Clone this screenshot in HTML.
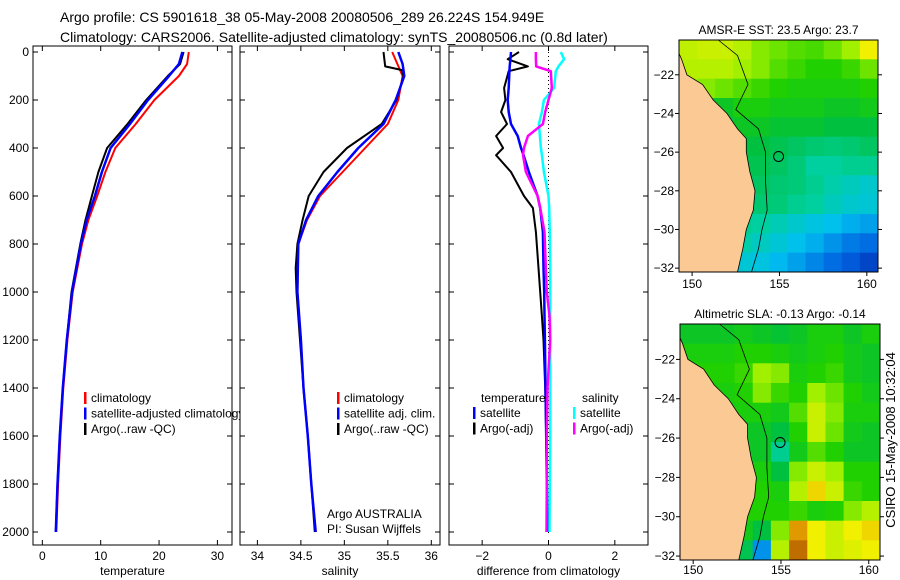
<!DOCTYPE html>
<html><head><meta charset="utf-8"><style>
body{margin:0;background:#fff}
svg{display:block;font-family:"Liberation Sans",sans-serif}
</style></head><body>
<svg id="fig" width="900" height="580" viewBox="0 0 900 580" xmlns="http://www.w3.org/2000/svg">
<text x="60" y="22" font-size="14">Argo profile: CS 5901618_38 05-May-2008 20080506_289 26.224S 154.949E</text>
<text x="60" y="42" font-size="14">Climatology: CARS2006. Satellite-adjusted climatology: synTS_20080506.nc (0.8d later)</text>
<g id="p1"></g>
<g id="p2"></g>
<g id="p3"></g>
<g id="m1"></g>
<g id="m2"></g>
<text transform="translate(895,440) rotate(-90)" text-anchor="middle" font-size="13">CSIRO 15-May-2008 10:32:04</text>
</svg>
<script>
const depths=[0,50,100,200,300,400,500,600,700,800,1000,1200,1400,1600,1800,2000];
const tClim=[25.1,24.8,23.4,19.2,16.0,12.5,10.8,9.4,7.9,6.8,5.2,4.3,3.6,3.1,2.7,2.4];
const tSat=[24.0,23.4,21.7,18.1,15.0,11.7,10.2,9.0,7.6,6.6,5.1,4.2,3.5,3.0,2.6,2.3];
const tArgo=[24.2,23.6,21.5,17.8,14.6,11.1,9.6,8.5,7.4,6.5,5.0,4.2,3.5,3.0,2.6,2.3];
const sClim=[35.55,35.61,35.67,35.62,35.50,35.24,34.98,34.72,34.57,34.47,34.46,34.50,34.53,34.58,34.62,34.67];
const sSat=[35.62,35.67,35.69,35.59,35.45,35.16,34.92,34.70,34.56,34.47,34.46,34.50,34.53,34.58,34.62,34.67];
const sArgoDepths=[0,60,75,100,200,300,400,500,600,700,800,900,1000,1200,1400,1600,1800,2000];
const sArgo=[35.45,35.47,35.66,35.68,35.60,35.43,35.03,34.76,34.59,34.52,34.46,34.44,34.45,34.49,34.53,34.58,34.62,34.66];
const dDepths=[0,30,60,80,150,200,250,300,350,400,430,500,600,650,750,900,1000,1100,1200,1400,1600,1800,2000];
const dTempSat=[-1.13,-1.15,-1.17,-1.18,-1.2,-1.23,-1.2,-1.13,-0.93,-0.83,-0.75,-0.59,-0.33,-0.25,-0.17,-0.15,-0.13,-0.12,-0.11,-0.09,-0.07,-0.05,-0.03];
const dTempArgo=[-0.89,-1.23,-0.62,-1.2,-1.34,-1.3,-1.43,-1.25,-1.58,-1.37,-1.58,-1.13,-0.74,-0.47,-0.38,-0.3,-0.25,-0.2,-0.15,-0.1,-0.07,-0.05,-0.05];
const dSalSat=[0.37,0.47,0.3,0.22,0.17,-0.14,-0.2,-0.29,-0.26,-0.23,-0.2,-0.14,0,0.02,0.04,0.05,0.05,0.05,0.05,0.05,0.05,0.04,0.03];
const dSalArgo=[-0.38,-0.38,-0.37,0.07,0.1,0,-0.1,-0.17,-0.62,-0.74,-0.77,-0.68,-0.33,-0.25,-0.12,-0.08,-0.05,0.03,0.05,-0.03,-0.05,-0.05,-0.06];
const tTicks=[0,10,20,30];
const sTicks=[34,34.5,35,35.5,36];
const dTicks=[-2,0,2];
const depthTicks=[0,200,400,600,800,1000,1200,1400,1600,1800,2000];
const sstGrid=[
[.85,.86,.86,.84,.80,.78,.76,.75,.78,.82,.90],
[.84,.84,.84,.82,.80,.76,.74,.72,.72,.74,.78],
[.82,.80,.78,.76,.74,.72,.70,.70,.70,.70,.72],
[.62,.64,.66,.70,.70,.68,.68,.68,.66,.66,.68],
[.50,.55,.60,.66,.66,.64,.64,.64,.62,.62,.62],
[.50,.50,.56,.62,.62,.60,.58,.56,.55,.56,.58],
[.45,.45,.52,.60,.60,.58,.55,.50,.50,.52,.52],
[.40,.40,.50,.58,.58,.56,.55,.52,.48,.45,.42],
[.40,.40,.48,.56,.56,.55,.52,.50,.45,.42,.40],
[.40,.40,.45,.52,.50,.46,.42,.38,.36,.32,.30],
[.40,.40,.42,.48,.44,.40,.36,.32,.28,.24,.22],
[.40,.40,.38,.40,.38,.34,.30,.26,.22,.18,.12]];
const slaGrid=[
[.66,.66,.66,.68,.66,.64,.66,.70,.70,.66,.70],
[.70,.70,.70,.72,.72,.70,.68,.70,.72,.68,.66],
[.72,.72,.72,.74,.82,.80,.70,.72,.74,.68,.66],
[.70,.70,.70,.72,.80,.74,.72,.82,.78,.72,.68],
[.68,.68,.68,.70,.70,.68,.76,.86,.80,.70,.70],
[.66,.66,.66,.66,.66,.62,.72,.86,.78,.68,.66],
[.64,.64,.64,.66,.66,.52,.68,.76,.72,.66,.66],
[.68,.68,.68,.70,.70,.62,.80,.86,.82,.72,.72],
[.70,.70,.70,.72,.72,.70,.84,.92,.86,.74,.72],
[.70,.70,.70,.72,.72,.72,.74,.70,.72,.80,.84],
[.70,.70,.70,.68,.62,.80,.96,.90,.86,.90,.92],
[.70,.70,.70,.60,.28,.84,.98,.90,.86,.88,.90]];
const coastLon=[149.25,149.4,149.7,150.6,151.2,152.0,152.6,153.1,153.1,153.3,153.6,153.5,153.1,152.9,152.6,149.25];
const coastLat=[-20.9,-21.2,-22.0,-22.5,-23.3,-24.0,-24.8,-25.3,-26.0,-27.0,-28.0,-29.0,-30.0,-31.0,-32.2,-32.2];
const isoLon=[151.5,152.6,153.2,152.5,153.8,154.2,154.2,154.3,154.0,153.8,153.4];
const isoLat=[-20.2,-21.0,-22.5,-23.8,-24.8,-26.0,-27.5,-29.0,-30.0,-31.0,-32.2];
const lonTicks=[150,155,160];
const latTicks=[-22,-24,-26,-28,-30,-32];
const argoLon=154.949, argoLat=-26.224;

const NS='http://www.w3.org/2000/svg';
function mk(parent,tag,attrs){const e=document.createElementNS(NS,tag);for(const k in attrs)e.setAttribute(k,attrs[k]);parent.appendChild(e);return e;}
const yD=d=>52+d*0.24;
function panel(g,x0,x1,xmin,xmax,ticks,label,showY){
  const xs=v=>x0+(v-xmin)/(xmax-xmin)*(x1-x0);
  const r=mk(g,'rect',{x:x0,y:46,width:x1-x0,height:499,fill:'#fff',stroke:'#000','stroke-width':1});
  
  
  ticks.forEach(t=>{
    const X=xs(t);
    mk(g,'line',{x1:X,y1:545,x2:X,y2:540,stroke:'#000'});
    mk(g,'line',{x1:X,y1:46,x2:X,y2:51,stroke:'#000'});
    const tx=mk(g,'text',{x:X,y:560,'font-size':12,'text-anchor':'middle'});
    tx.textContent=(t<0?'\u2212':'')+Math.abs(t);
    
    
  });
  depthTicks.forEach(d=>{
    const Y=yD(d);
    mk(g,'line',{x1:x1,y1:Y,x2:x1-5,y2:Y,stroke:'#000'});
    mk(g,'line',{x1:x0,y1:Y,x2:x0+5,y2:Y,stroke:'#000'});
    if(showY){const tx=mk(g,'text',{x:x0-4,y:Y+4,'font-size':12,'text-anchor':'end'});tx.textContent=d;
      
      }
  });
  const lb=mk(g,'text',{x:(x0+x1)/2,y:575,'font-size':12,'text-anchor':'middle'});lb.textContent=label;
  
  
  return xs;
}
function line(g,xs,ds,vals,color,w,name){
  const pts=ds.map((d,i)=>xs(vals[i]).toFixed(1)+','+yD(d).toFixed(1)).join(' ');
  const p=mk(g,'polyline',{points:pts,fill:'none',stroke:color,'stroke-width':w,'stroke-linejoin':'round'});
  
  
}
function legend(g,x,y,items){
  items.forEach((it,i)=>{
    mk(g,'rect',{x:x,y:y+i*15.5-10,width:2.5,height:12,fill:it[1]});
    const t=mk(g,'text',{x:x+7,y:y+i*15.5,'font-size':12});t.textContent=it[0];
    
    
  });
}
const g1=document.getElementById('p1');
const xs1=panel(g1,33,232,-1.6,32.5,tTicks,'temperature',true);
line(g1,xs1,depths,tClim,'#f00',2,'temperature-climatology-line');
line(g1,xs1,depths,tArgo,'#000',2,'temperature-argo-line');
line(g1,xs1,depths,tSat,'#00f',2.5,'temperature-satellite-line');
legend(g1,84,402,[['climatology','#f00'],['satellite-adjusted climatology','#00f'],['Argo(..raw -QC)','#000']]);
const g2=document.getElementById('p2');
const xs2=panel(g2,240,440,33.8,36.1,sTicks,'salinity',false);
line(g2,xs2,depths,sClim,'#f00',2,'salinity-climatology-line');
line(g2,xs2,sArgoDepths,sArgo,'#000',2,'salinity-argo-line');
line(g2,xs2,depths,sSat,'#00f',2.5,'salinity-satellite-line');
legend(g2,337,402,[['climatology','#f00'],['satellite adj. clim.','#00f'],['Argo(..raw -QC)','#000']]);
let t=mk(g2,'text',{x:327,y:518,'font-size':12});t.textContent='Argo AUSTRALIA';


t=mk(g2,'text',{x:327,y:533,'font-size':12});t.textContent='PI: Susan Wijffels';


const g3=document.getElementById('p3');
const xs3=panel(g3,449,648,-3,3,dTicks,'difference from climatology',false);
mk(g3,'line',{x1:xs3(0),y1:52,x2:xs3(0),y2:535,stroke:'#000','stroke-dasharray':'1,3'});
line(g3,xs3,dDepths,dTempArgo,'#000',2,'diff-temperature-argo-line');
line(g3,xs3,dDepths,dTempSat,'#00f',2.5,'diff-temperature-satellite-line');
line(g3,xs3,dDepths,dSalSat,'#0ff',2.5,'diff-salinity-satellite-line');
line(g3,xs3,dDepths,dSalArgo,'#f0f',2.5,'diff-salinity-argo-line');
t=mk(g3,'text',{x:481,y:402,'font-size':12});t.textContent='temperature';


t=mk(g3,'text',{x:582,y:402,'font-size':12});t.textContent='salinity';


legend(g3,473,417,[['satellite','#00f'],['Argo(-adj)','#000']]);
legend(g3,573,417,[['satellite','#0ff'],['Argo(-adj)','#f0f']]);

const cStops=[[0,[0,32,160]],[0.2,[0,96,224]],[0.35,[0,192,240]],[0.5,[0,208,160]],[0.62,[0,192,64]],[0.72,[32,208,0]],[0.82,[160,240,0]],[0.9,[240,240,0]],[0.95,[240,176,0]],[1,[160,64,0]]];
function cmap(v){for(let i=1;i<cStops.length;i++){if(v<=cStops[i][0]){const a=cStops[i-1],b=cStops[i];const f=(v-a[0])/(b[0]-a[0]);return 'rgb('+a[1].map((c,k)=>Math.round(c+f*(b[1][k]-c))).join(',')+')';}}return 'rgb(160,64,0)';}
function map(g,x0,x1,y0,y1,grid,title,labelY){
  const lonMin=149.25,lonMax=160.64,latTop=-20.2,latBot=-32.2;
  const X=l=>x0+(l-lonMin)/(lonMax-lonMin)*(x1-x0);
  const Y=l=>y0+(latTop-l)/(latTop-latBot)*(y1-y0);
  const rows=grid.length,cols=grid[0].length;
  const cw=(x1-x0)/cols,ch=(y1-y0)/rows;
  grid.forEach((row,r)=>row.forEach((v,c)=>{
    const cell=mk(g,'rect',{x:(x0+c*cw).toFixed(1),y:(y0+r*ch).toFixed(1),width:(Math.min(cw+0.6,x1-(x0+c*cw))).toFixed(1),height:(Math.min(ch+0.6,y1-(y0+r*ch))).toFixed(1),fill:cmap(v)});
    
    
  }));
  const land=mk(g,'polygon',{points:coastLon.map((l,i)=>X(l).toFixed(1)+','+Y(coastLat[i]).toFixed(1)).join(' '),fill:'#fbc994',stroke:'#000','stroke-width':0.8});
  
  
  const iso=mk(g,'polyline',{points:isoLon.map((l,i)=>X(l).toFixed(1)+','+Y(isoLat[i]).toFixed(1)).join(' '),fill:'none',stroke:'#000','stroke-width':0.8});
  
  
  const c=mk(g,'circle',{cx:X(argoLon),cy:Y(argoLat),r:5,fill:'none',stroke:'#000','stroke-width':1});
  
  
  mk(g,'rect',{x:x0,y:y0,width:x1-x0,height:y1-y0,fill:'none',stroke:'#000'});
  lonTicks.forEach(l=>{mk(g,'line',{x1:X(l),y1:y1,x2:X(l),y2:y1+4,stroke:'#000'});
    const tx=mk(g,'text',{x:X(l),y:labelY,'font-size':12,'text-anchor':'middle'});tx.textContent=l;
    
    });
  latTicks.forEach(l=>{mk(g,'line',{x1:x0,y1:Y(l),x2:x0-4,y2:Y(l),stroke:'#000'});
    mk(g,'line',{x1:x1,y1:Y(l),x2:x1+4,y2:Y(l),stroke:'#000'});
    const tx=mk(g,'text',{x:x0-5,y:Y(l)+4,'font-size':12,'text-anchor':'end'});tx.textContent='\u2212'+Math.abs(l);
    
    });
  const tt=mk(g,'text',{x:(x0+x1)/2,y:y0-6,'font-size':12,'text-anchor':'middle'});tt.textContent=title;
  
  
}
map(document.getElementById('m1'),679,878,40,272,sstGrid,'AMSR-E SST: 23.5 Argo: 23.7',288);
map(document.getElementById('m2'),680,880,324,560,slaGrid,'Altimetric SLA: -0.13 Argo: -0.14',574);
</script>
</body></html>
